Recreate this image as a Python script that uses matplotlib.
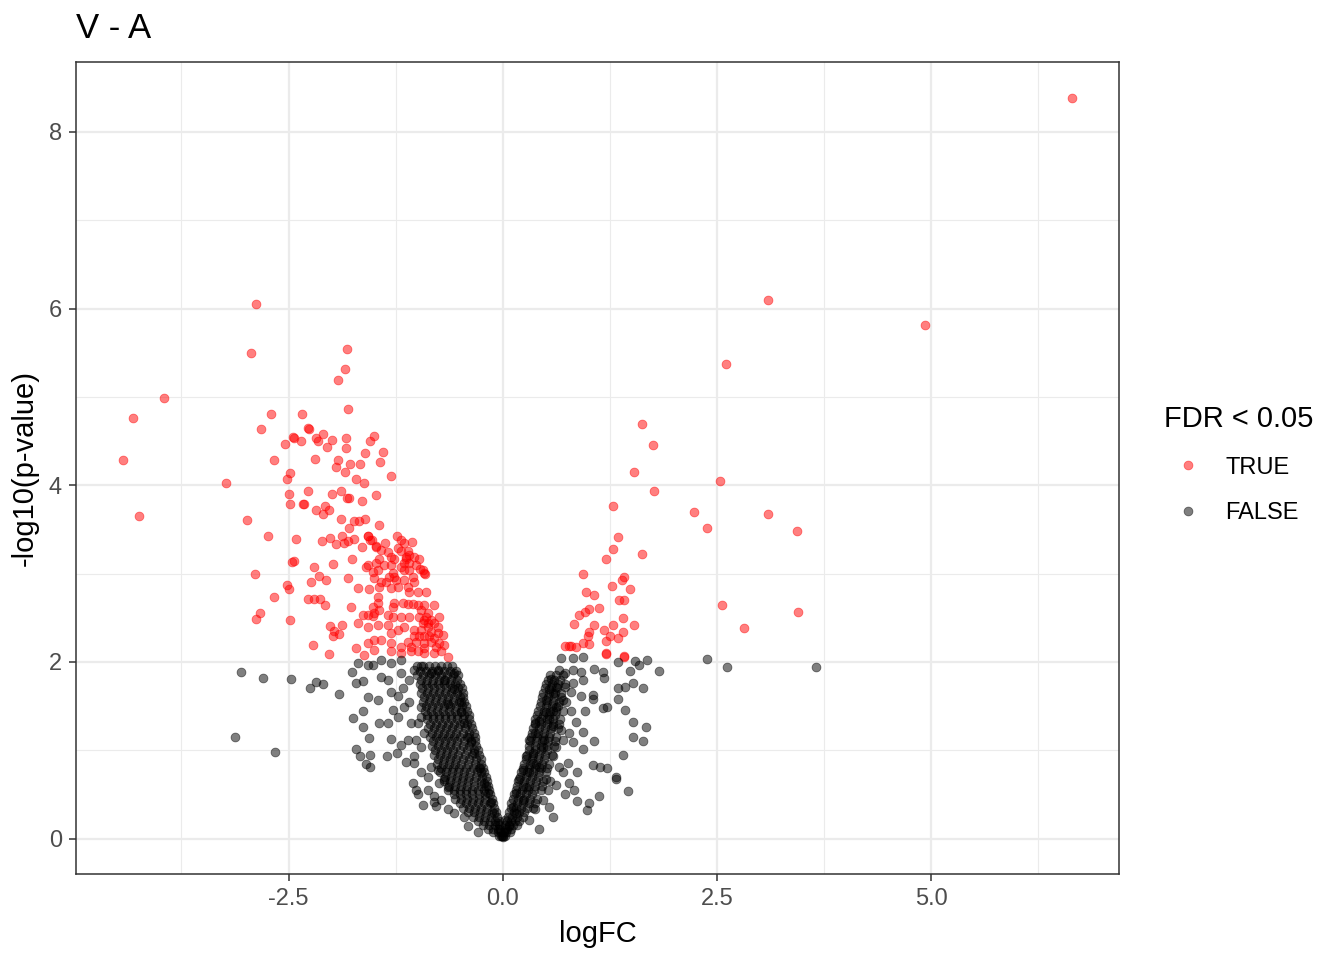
import numpy as np
import matplotlib.pyplot as plt
from matplotlib.lines import Line2D

plt.rcParams['font.family'] = ['Liberation Sans', 'DejaVu Sans']

# FDR < 0.05 : TRUE  (logFC, -log10 p)
sig_pts = [
    (-2.88, 6.05), (-2.94, 5.50), (-3.95, 4.99), (-4.31, 4.76), (-4.43, 4.28), (-4.24, 3.65),
    (-3.23, 4.02), (-2.98, 3.61), (-2.74, 3.43), (-2.89, 2.99), (-2.52, 2.87), (-2.49, 2.83),
    (-2.67, 2.73), (-2.83, 2.55), (-2.88, 2.49), (-2.48, 2.48), (-2.21, 2.19),
    (-2.41, 3.39), (-2.46, 3.13), (-2.20, 3.08), (-2.24, 2.91), (-2.14, 2.97), (-2.27, 2.71),
    (-2.20, 2.71), (-2.13, 2.71), (-2.70, 4.81), (-2.34, 4.81), (-2.82, 4.64), (-2.27, 4.65),
    (-2.45, 4.55), (-2.35, 4.50), (-2.54, 4.47), (-2.18, 4.54), (-2.67, 4.29), (-2.19, 4.30),
    (-2.48, 4.14), (-2.52, 4.07), (-2.49, 3.90), (-2.27, 3.94), (-2.48, 3.79), (-2.33, 3.79),
    (-2.18, 3.72),
    (-1.82, 5.54), (-1.84, 5.31), (-1.92, 5.19), (-1.81, 4.86), (-2.26, 4.64), (-2.44, 4.54),
    (-2.10, 4.58), (-2.16, 4.50), (-1.99, 4.51), (-2.05, 4.43), (-1.83, 4.54), (-1.83, 4.42),
    (-1.50, 4.56), (-1.55, 4.50), (-1.40, 4.38), (-1.61, 4.37), (-1.92, 4.28), (-1.78, 4.24),
    (-1.67, 4.24), (-1.95, 4.21), (-1.84, 4.15), (-1.43, 4.26), (-1.31, 4.10), (-1.71, 4.07),
    (-1.62, 4.03), (-1.99, 3.90), (-1.89, 3.94), (-1.82, 3.85), (-1.79, 3.85), (-1.64, 3.82),
    (-1.48, 3.89), (-2.32, 3.79), (-2.07, 3.76), (-2.03, 3.72), (-2.10, 3.68), (-1.89, 3.62),
    (-1.74, 3.60), (-1.68, 3.59), (-1.61, 3.62), (-1.45, 3.55), (-1.79, 3.52), (-2.11, 3.37),
    (-2.02, 3.40), (-1.95, 3.34), (-1.88, 3.43), (-1.85, 3.35), (-1.81, 3.37), (-1.74, 3.39),
    (-1.64, 3.30), (-1.57, 3.42), (-1.55, 3.38), (-1.48, 3.31), (-1.38, 3.35), (-2.44, 3.14),
    (-1.98, 3.11), (-1.76, 3.17), (-2.06, 2.93), (-1.81, 2.95), (-1.69, 2.84), (-1.56, 2.82),
    (-2.07, 2.64), (-1.77, 2.62), (-1.69, 2.44), (-2.02, 2.41), (-1.97, 2.35), (-1.88, 2.42),
    (-1.98, 2.29), (-1.91, 2.32), (-2.03, 2.09), (-1.71, 2.16), (-1.57, 2.22),
    # dense cluster
    (-1.57, 3.43), (-1.53, 3.38), (-1.48, 3.30), (-1.42, 3.27), (-1.34, 3.24), (-1.24, 3.42),
    (-1.19, 3.38), (-1.15, 3.35), (-1.06, 3.36), (-1.22, 3.29), (-1.19, 3.25), (-1.11, 3.25),
    (-1.13, 3.16), (-1.10, 3.12), (-1.19, 3.08), (-1.15, 3.04), (-0.98, 3.16), (-0.92, 3.01),
    (-0.97, 3.05), (-1.27, 3.16), (-1.31, 3.10), (-1.27, 2.96), (-1.33, 2.96), (-1.39, 3.10),
    (-1.45, 3.16), (-1.48, 3.12), (-1.57, 3.10), (-1.60, 3.08), (-1.52, 3.02), (-1.46, 3.04),
    (-1.50, 2.95), (-1.42, 2.91), (-1.45, 2.85), (-1.36, 2.90), (-1.31, 2.84), (-1.22, 2.85),
    (-1.11, 2.85), (-1.04, 2.90), (-1.10, 2.79), (-0.99, 2.79), (-0.90, 2.79), (-1.05, 2.96),
    (-1.15, 2.93), (-1.46, 2.74), (-1.46, 2.67), (-1.52, 2.62), (-1.50, 2.55), (-1.45, 2.59),
    (-1.27, 2.67), (-1.17, 2.67), (-1.11, 2.66), (-1.05, 2.66), (-0.99, 2.65), (-0.92, 2.65),
    (-0.80, 2.65), (-1.28, 2.62), (-1.63, 2.53), (-1.57, 2.53), (-1.52, 2.52), (-1.34, 2.53),
    (-1.28, 2.51), (-1.19, 2.51), (-1.10, 2.51), (-0.98, 2.51), (-0.92, 2.48), (-0.87, 2.44),
    (-0.75, 2.51), (-1.57, 2.40), (-1.46, 2.42), (-1.34, 2.42), (-1.31, 2.33), (-1.22, 2.36),
    (-1.15, 2.40), (-1.04, 2.36), (-0.96, 2.36), (-0.84, 2.34), (-0.76, 2.33), (-0.70, 2.31),
    (-1.42, 2.25), (-1.50, 2.25), (-1.31, 2.22), (-1.19, 2.17), (-1.11, 2.23), (-1.01, 2.23),
    (-0.92, 2.22), (-0.84, 2.23), (-0.75, 2.22), (-0.69, 2.19), (-1.50, 2.14), (-1.31, 2.12),
    (-1.19, 2.10), (-1.07, 2.12), (-0.99, 2.12), (-0.92, 2.10), (-0.80, 2.10), (-0.72, 2.12),
    (-0.64, 2.06), (-1.62, 2.08), (-0.87, 2.40), (-0.93, 2.44), (-0.90, 2.51), (-0.96, 2.59),
    (-0.87, 2.55), (-0.84, 2.48), (-0.80, 2.44), (-0.76, 2.40), (-0.92, 2.29), (-0.86, 2.29),
    (-0.80, 2.27), (-0.98, 2.29), (-1.04, 2.29), (-1.07, 2.17), (-0.78, 2.17), (-0.92, 2.16),
    (-1.15, 3.12), (-0.93, 3.04), (-0.91, 3.00), (-1.31, 3.19), (-1.28, 3.01), (-1.25, 2.93),
    (-1.10, 3.21), (-1.04, 3.19), (-1.10, 3.04), (-1.01, 3.10), (-1.13, 3.19),
    # right side
    (6.64, 8.38), (3.10, 6.10), (4.93, 5.81), (2.61, 5.37), (1.62, 4.69), (1.75, 4.46),
    (1.53, 4.15), (1.76, 3.93), (2.54, 4.05), (2.23, 3.70), (2.38, 3.52), (3.09, 3.67),
    (3.43, 3.48), (1.29, 3.76), (1.62, 3.22), (2.56, 2.65), (3.45, 2.57), (2.82, 2.38),
    (1.35, 3.41), (1.29, 3.28), (1.21, 3.17), (0.94, 2.99), (1.42, 2.96), (1.39, 2.93),
    (1.28, 2.86), (1.49, 2.83), (0.97, 2.79), (1.06, 2.76), (1.36, 2.70), (1.41, 2.70),
    (1.12, 2.61), (1.00, 2.60), (0.96, 2.57), (0.89, 2.53), (0.83, 2.43), (1.06, 2.42),
    (1.29, 2.42), (1.40, 2.50), (1.53, 2.42), (1.18, 2.36), (1.00, 2.34), (0.99, 2.29),
    (1.25, 2.29), (1.40, 2.34), (1.34, 2.27), (1.21, 2.24), (0.93, 2.21), (1.00, 2.20),
    (0.72, 2.18), (0.77, 2.18), (0.85, 2.17), (1.21, 2.09), (1.42, 2.06), (0.79, 2.18),
    (1.20, 2.10), (1.41, 2.07),
]

# FDR < 0.05 : FALSE, scattered points
ns_pts = [
    (-3.05, 1.89), (-2.80, 1.82), (-2.47, 1.81), (-2.25, 1.70), (-2.18, 1.77), (-3.12, 1.15),
    (-2.66, 0.98), (-2.10, 1.75), (-1.91, 1.64), (-1.76, 1.89), (-1.69, 1.99), (-1.71, 1.76),
    (-1.63, 1.78), (-1.57, 1.97), (-1.52, 1.97), (-1.42, 2.02), (-1.31, 1.99), (-1.19, 2.02),
    (-1.42, 1.83), (-1.34, 1.80), (-1.57, 1.60), (-1.46, 1.57), (-1.31, 1.66), (-1.22, 1.61),
    (-1.17, 1.71), (-1.19, 1.88), (-1.10, 1.80), (-1.04, 1.91), (-0.96, 1.95), (-0.84, 1.88),
    (-0.76, 1.91), (-0.69, 1.80), (-0.57, 1.88), (-1.75, 1.37), (-1.63, 1.44), (-1.63, 1.26),
    (-1.45, 1.31), (-1.34, 1.31), (-1.56, 1.14), (-1.71, 1.02), (-1.67, 0.94), (-1.55, 0.95),
    (-1.60, 0.84), (-1.55, 0.81), (-1.35, 0.94), (-1.31, 1.13), (-1.22, 1.38), (-1.28, 1.46),
    (-1.15, 1.49), (-1.10, 1.55), (-1.24, 0.97), (-1.13, 0.87), (-1.04, 0.86), (-1.05, 0.63),
    (-1.01, 0.55), (-0.99, 0.50), (-0.93, 0.38), (-0.80, 0.41), (-0.78, 0.37), (-0.64, 0.33),
    (-0.96, 0.76), (-0.87, 0.70), (-0.75, 0.63), (-0.96, 1.04), (-0.92, 1.20), (-0.99, 1.31),
    (-0.96, 1.38), (-0.96, 1.49), (-1.07, 1.31), (-1.11, 1.12), (-1.19, 1.06), (-1.01, 1.12),
    (-1.04, 0.93), (-0.84, 0.81), (-0.76, 0.78), (-0.69, 0.67), (-0.64, 0.58), (-0.87, 0.55),
    (-0.80, 0.48), (-0.72, 0.44), (-0.57, 0.29), (-0.45, 0.25), (-0.41, 0.14), (-0.29, 0.08),
    (-0.64, 1.52), (-0.49, 1.55), (-0.57, 1.69), (-0.49, 1.43), (-0.45, 1.31), (-0.40, 1.15),
    (-0.37, 1.09), (-0.34, 0.97), (-0.28, 0.80), (-0.26, 0.75), (-0.22, 0.63), (-0.17, 0.52),
    (-0.14, 0.41), (-0.10, 0.29), (-0.06, 0.18), (0.00, 0.02),
    (0.68, 2.04), (0.82, 2.04), (0.93, 2.06), (0.56, 1.81), (0.65, 1.91), (0.73, 1.88),
    (0.82, 1.91), (0.91, 1.89), (0.93, 1.79), (1.06, 1.92), (1.17, 1.89), (1.18, 1.82),
    (1.35, 2.00), (1.54, 2.01), (1.59, 1.97), (1.68, 2.02), (1.82, 1.90), (1.48, 1.90),
    (1.34, 1.71), (1.43, 1.72), (1.52, 1.76), (1.64, 1.70), (0.50, 1.57), (0.59, 1.65),
    (0.79, 1.66), (0.91, 1.61), (1.05, 1.63), (1.05, 1.58), (1.34, 1.58), (1.43, 1.46),
    (1.17, 1.48), (1.22, 1.49), (0.96, 1.45), (0.79, 1.45), (0.59, 1.44), (0.42, 1.33),
    (0.54, 1.35), (0.68, 1.23), (0.85, 1.32), (0.93, 1.21), (1.52, 1.32), (1.67, 1.26),
    (1.52, 1.15), (1.64, 1.11), (1.06, 1.10), (0.94, 1.01), (0.82, 1.09), (1.40, 0.95),
    (0.38, 1.20), (0.48, 1.12), (0.35, 0.97), (0.58, 0.93), (0.76, 0.86), (1.05, 0.83),
    (1.14, 0.81), (1.22, 0.80), (1.32, 0.70), (1.32, 0.67), (1.46, 0.54), (1.12, 0.48),
    (1.01, 0.40), (0.98, 0.32), (0.86, 0.43), (0.83, 0.55), (0.73, 0.51), (0.77, 0.63),
    (0.87, 0.75), (0.62, 0.61), (0.59, 0.25), (0.42, 0.11), (0.30, 0.75), (0.27, 0.59),
    (0.23, 0.44), (0.15, 0.29), (0.07, 0.14), (0.50, 0.67), (0.47, 0.44), (0.38, 0.33),
    (0.30, 0.21), (0.54, 0.36), (0.42, 0.81), (0.35, 0.86), (0.70, 0.75), (0.65, 0.81),
    (0.62, 1.04), (0.70, 1.12), (0.77, 1.20), (0.47, 1.04), (0.58, 1.27), (0.50, 1.43),
    (0.62, 1.49), (0.70, 1.57), (0.73, 1.72), (0.82, 1.76), (0.62, 1.72), (0.54, 1.69),
    (0.38, 1.31), (0.30, 1.12), (0.27, 0.93), (0.23, 0.78), (0.19, 0.67), (0.15, 0.52),
    (0.12, 0.36), (0.03, 0.21),
    (2.38, 2.03), (2.62, 1.94), (3.65, 1.94),
]

# FDR < 0.05 : FALSE, dense core rows  {-log10 p: [logFC, ...]}
core_left = {
    1.95: [-1.00, -0.93, -0.86, -0.79, -0.72, -0.65, -0.59],
    1.90: [-0.97, -0.90, -0.83, -0.76, -0.69, -0.62, -0.55],
    1.85: [-1.00, -0.93, -0.86, -0.79, -0.72, -0.65, -0.58, -0.52],
    1.80: [-0.96, -0.89, -0.82, -0.75, -0.68, -0.61, -0.54],
    1.75: [-0.97, -0.90, -0.83, -0.76, -0.69, -0.62, -0.56, -0.50],
    1.70: [-0.94, -0.87, -0.80, -0.73, -0.66, -0.59, -0.52, -0.48],
    1.65: [-0.95, -0.88, -0.81, -0.74, -0.67, -0.60, -0.53, -0.47],
    1.60: [-0.92, -0.85, -0.78, -0.71, -0.64, -0.57, -0.50, -0.46],
    1.55: [-0.93, -0.86, -0.79, -0.72, -0.65, -0.58, -0.51, -0.45],
    1.50: [-0.90, -0.83, -0.76, -0.69, -0.62, -0.55, -0.48, -0.43],
    1.45: [-0.91, -0.84, -0.77, -0.70, -0.63, -0.56, -0.49, -0.42],
    1.40: [-0.88, -0.81, -0.74, -0.67, -0.60, -0.53, -0.45, -0.40],
    1.35: [-0.89, -0.82, -0.75, -0.68, -0.61, -0.54, -0.47, -0.39],
    1.30: [-0.85, -0.78, -0.71, -0.64, -0.57, -0.50, -0.42, -0.37],
    1.25: [-0.87, -0.80, -0.73, -0.66, -0.59, -0.52, -0.44, -0.36],
    1.20: [-0.83, -0.76, -0.69, -0.62, -0.55, -0.47, -0.40, -0.34],
    1.15: [-0.85, -0.78, -0.71, -0.64, -0.57, -0.50, -0.42, -0.33],
    1.10: [-0.81, -0.74, -0.67, -0.60, -0.53, -0.45, -0.37, -0.32],
    1.05: [-0.83, -0.76, -0.69, -0.62, -0.55, -0.47, -0.39, -0.31],
    1.00: [-0.79, -0.72, -0.65, -0.58, -0.50, -0.42, -0.34, -0.29],
    0.95: [-0.80, -0.73, -0.66, -0.59, -0.52, -0.44, -0.36, -0.28],
    0.90: [-0.76, -0.69, -0.62, -0.55, -0.47, -0.39, -0.31, -0.26],
    0.85: [-0.77, -0.70, -0.63, -0.56, -0.49, -0.41, -0.33, -0.25],
    0.80: [-0.72, -0.65, -0.58, -0.51, -0.43, -0.35, -0.27, -0.23],
    0.75: [-0.73, -0.66, -0.59, -0.52, -0.45, -0.38, -0.30, -0.22],
    0.70: [-0.68, -0.61, -0.54, -0.47, -0.39, -0.31, -0.24, -0.20],
    0.65: [-0.69, -0.62, -0.55, -0.48, -0.41, -0.34, -0.26, -0.19],
    0.60: [-0.63, -0.56, -0.49, -0.42, -0.34, -0.26, -0.20, -0.17],
    0.55: [-0.64, -0.57, -0.50, -0.43, -0.36, -0.29, -0.22, -0.16],
    0.50: [-0.57, -0.50, -0.43, -0.36, -0.28, -0.21, -0.15],
    0.45: [-0.56, -0.49, -0.42, -0.35, -0.28, -0.21, -0.13],
    0.40: [-0.50, -0.43, -0.36, -0.29, -0.22, -0.15, -0.11],
    0.35: [-0.46, -0.39, -0.32, -0.25, -0.18, -0.10],
    0.30: [-0.41, -0.34, -0.27, -0.20, -0.13, -0.08],
    0.25: [-0.35, -0.28, -0.21, -0.14, -0.07],
    0.20: [-0.29, -0.22, -0.15, -0.09, -0.05],
    0.15: [-0.23, -0.16, -0.09, -0.04],
    0.11: [-0.17, -0.11, -0.06, -0.03],
    0.07: [-0.12, -0.06, -0.02],
    0.03: [-0.05, -0.02, -0.01],
}
core_right = {
    1.85: [0.55, 0.62, 0.70],
    1.80: [0.53, 0.60, 0.67],
    1.75: [0.50, 0.57, 0.64, 0.72],
    1.70: [0.49, 0.56, 0.63],
    1.65: [0.47, 0.54, 0.61, 0.68],
    1.60: [0.46, 0.53, 0.60, 0.68],
    1.55: [0.44, 0.51, 0.58, 0.65, 0.74],
    1.50: [0.43, 0.50, 0.57, 0.64],
    1.45: [0.41, 0.48, 0.55, 0.62, 0.70],
    1.40: [0.40, 0.47, 0.54, 0.61],
    1.35: [0.38, 0.45, 0.52, 0.59, 0.67],
    1.30: [0.37, 0.44, 0.51, 0.58, 0.66],
    1.25: [0.35, 0.42, 0.49, 0.56, 0.64],
    1.20: [0.34, 0.41, 0.48, 0.55],
    1.15: [0.33, 0.40, 0.47, 0.54, 0.62],
    1.10: [0.32, 0.39, 0.46, 0.53, 0.61],
    1.05: [0.31, 0.38, 0.45, 0.52, 0.60],
    1.00: [0.30, 0.37, 0.44, 0.51],
    0.95: [0.28, 0.35, 0.42, 0.49, 0.57],
    0.90: [0.27, 0.34, 0.41, 0.48],
    0.85: [0.25, 0.32, 0.39, 0.46, 0.54],
    0.80: [0.23, 0.30, 0.37, 0.44, 0.52],
    0.75: [0.21, 0.28, 0.35, 0.42, 0.50],
    0.70: [0.20, 0.27, 0.34, 0.41],
    0.65: [0.18, 0.25, 0.32, 0.39, 0.47, 0.55],
    0.60: [0.17, 0.24, 0.31, 0.38, 0.46],
    0.55: [0.15, 0.22, 0.29, 0.36, 0.44, 0.53],
    0.50: [0.13, 0.20, 0.27, 0.34],
    0.45: [0.12, 0.18, 0.25, 0.32, 0.40],
    0.40: [0.10, 0.16, 0.23, 0.30, 0.38],
    0.35: [0.09, 0.15, 0.21, 0.28, 0.35],
    0.30: [0.07, 0.13, 0.19, 0.25],
    0.25: [0.06, 0.11, 0.17, 0.23],
    0.20: [0.05, 0.09, 0.14, 0.19],
    0.15: [0.03, 0.07, 0.12, 0.17],
    0.11: [0.02, 0.05, 0.09],
    0.07: [0.01, 0.04, 0.08],
    0.03: [0.00, 0.02],
}

sig = np.array(sig_pts)
ns = list(ns_pts)
for rows in (core_left, core_right):
    for yv, xs in rows.items():
        ns += [(xv, yv) for xv in xs]
ns = np.array(ns)

fig = plt.figure(figsize=(13.44, 9.6), dpi=100)
ax = fig.add_axes([76 / 1344, 1 - 874 / 960, (1119 - 76) / 1344, (874 - 62) / 960])

ax.scatter(sig[:, 0], sig[:, 1], s=40, c='#FF0000', edgecolors='#FF0000', alpha=0.5,
           linewidths=0.6, zorder=3)
ax.scatter(ns[:, 0], ns[:, 1], s=40, c='black', edgecolors='black', alpha=0.5,
           linewidths=0.6, zorder=3)

ax.set_xlim(-4.98, 7.19)
ax.set_ylim(-0.40, 8.79)
ax.set_xticks([-2.5, 0.0, 2.5, 5.0])
ax.set_xticklabels(['-2.5', '0.0', '2.5', '5.0'])
ax.set_yticks([0, 2, 4, 6, 8])
ax.set_xticks([-3.75, -1.25, 1.25, 3.75, 6.25], minor=True)
ax.set_yticks([1, 3, 5, 7], minor=True)
ax.grid(which='major', color='#EBEBEB', linewidth=1.6, zorder=0)
ax.grid(which='minor', color='#EBEBEB', linewidth=0.8, zorder=0)
ax.set_axisbelow(True)
for sp in ax.spines.values():
    sp.set_color('#333333')
    sp.set_linewidth(1.1)
ax.tick_params(which='major', length=5, width=1.1, color='#333333',
               labelsize=17, labelcolor='#4D4D4D', pad=5)
ax.tick_params(which='minor', length=0)

ax.set_xlabel('logFC', fontsize=21, labelpad=7)
ax.set_ylabel('-log10(p-value)', fontsize=21, labelpad=7)
fig.text(76 / 1344, 1 - 28 / 960, 'V - A', fontsize=25, va='center', ha='left')

handles = [
    Line2D([], [], marker='o', linestyle='none', markersize=6.3, color='#FF0000',
           markeredgewidth=0.6, alpha=0.5),
    Line2D([], [], marker='o', linestyle='none', markersize=6.3, color='black',
           markeredgewidth=0.6, alpha=0.5),
]
leg = ax.legend(handles, ['TRUE', 'FALSE'], title='FDR < 0.05', frameon=False,
                loc='upper left', bbox_to_anchor=(1164 / 1344, 1 - 405 / 960),
                bbox_transform=fig.transFigure, fontsize=17, title_fontsize=21,
                labelspacing=1.0, handlelength=2.0, handletextpad=0.6, borderaxespad=0,
                borderpad=0)
leg._legend_box.align = 'left'
leg._legend_box._children[0].sep = 14

fig.savefig('out.png', dpi=100)
